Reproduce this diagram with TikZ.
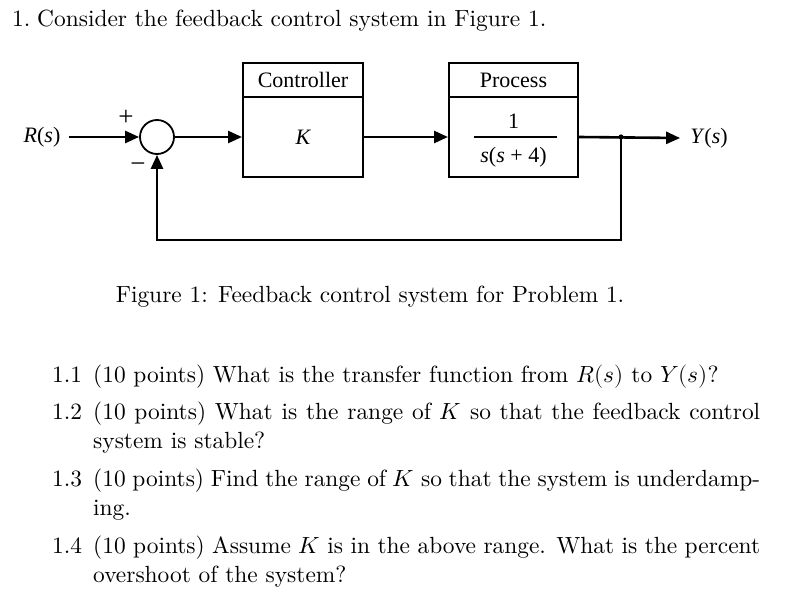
\documentclass[tikz,border=0pt]{standalone}
\usepackage{unicode-math}
\setmainfont{lmroman10-regular}[Extension=.otf,ItalicFont=lmroman10-italic,BoldFont=lmroman10-bold]
\setmathfont{Latin Modern Math}
\newfontfamily\figfont{Liberation Serif}
\usetikzlibrary{arrows.meta}
\begin{document}
\begin{tikzpicture}[x=1pt,y=-1pt,
  wire/.style={line width=2.6pt},
  arr/.style={wire,-{Triangle[length=14pt,width=12pt]}},
  blk/.style={draw,line width=2pt,minimum width=120pt,inner sep=0pt,font=\figfont\fontsize{22}{26}\selectfont},
  lbl/.style={inner sep=0pt,font=\figfont\fontsize{22}{26}\selectfont},
  sgn/.style={inner sep=0pt,font=\figfont\fontsize{27}{30}\selectfont},
  txt/.style={inner sep=0pt,anchor=base west,font=\fontsize{23.4}{28}\selectfont}]
\useasboundingbox (0,0) rectangle (798,604);
% blocks
\node[blk,minimum height=34pt] (ctrlh) at (303,80) {Controller};
\node[blk,minimum height=80pt] (ctrlb) at (303,137) {\itshape K};
\node[blk,minimum width=129pt,minimum height=34pt] (proch) at (513.5,80) {Process};
\node[blk,minimum width=129pt,minimum height=80pt] (procb) at (513.5,137) {};
\node[lbl] (num) at (513.5,121) {1};
\node[lbl] (den) at (513.5,157) {\textit{s}(\textit{s} + 4)};
\draw[line width=1.6pt] (474,137) -- (557,137);
% summing junction
\node[circle,draw,line width=1.8pt,minimum size=34pt,inner sep=0pt] (sum) at (157,137) {};
\node[sgn] (plus) at (126,118) {+};
\node[sgn] (minus) at (138,168) {−};
% labels
\node[lbl] (R) at (42,137) {\textit{R}(\textit{s})};
\node[lbl] (Y) at (709,138) {\textit{Y}(\textit{s})};
\coordinate (j) at (621,137);
\coordinate (fb) at (621,240);
% connectors
\draw[arr] ([xshift=8pt]R.east) -- (sum.west);
\draw[arr] (sum.east) -- (ctrlb.west);
\draw[arr] (ctrlb.east) -- (procb.west);
\draw[arr] (procb.east) -- ([xshift=-10pt]Y.west);
\fill (j) circle (2.6pt);
\draw[arr] (j) -- (fb) -| (sum.south);
% text
\node[txt] (n1) at (12,27) {1.};
\node[txt] (t1) at (37,27) {Consider the feedback control system in Figure 1.};
\node[inner sep=0pt,anchor=base,font=\fontsize{23.4}{28}\selectfont] (cap) at (370,302) {Figure 1: Feedback control system for Problem 1.};
\node[txt] (l11) at (52,382) {1.1};
\node[txt] (q11) at (93,382) {(10 points) What is the transfer function from $R(s)$ to $Y(s)$?};
\node[txt] (l12) at (52,419) {1.2};
\node[txt] (q12) at (93,419) {\hbox to 667pt{(10 points) What is the range of $K$ so that the feedback control}};
\node[txt] (q12b) at (93,448) {system is stable?};
\node[txt] (l13) at (52,486) {1.3};
\node[txt] (q13) at (93,486) {\hbox to 667pt{(10 points) Find the range of $K$ so that the system is underdamp-}};
\node[txt] (q13b) at (93,515) {ing.};
\node[txt] (l14) at (52,553) {1.4};
\node[txt] (q14) at (93,553) {\hbox to 667pt{(10 points) Assume $K$ is in the above range. What is the percent}};
\node[txt] (q14b) at (93,582) {overshoot of the system?};
\end{tikzpicture}
\end{document}
